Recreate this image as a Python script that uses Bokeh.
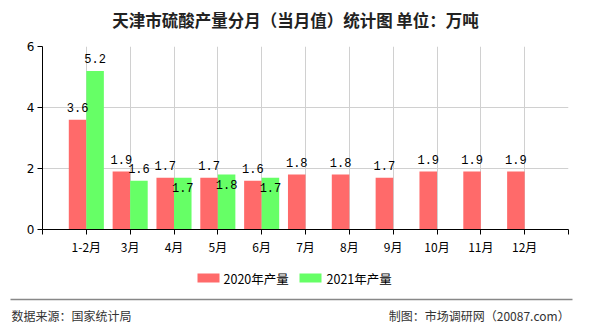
from bokeh.plotting import figure
from bokeh.models import Range1d, FixedTicker, ColumnDataSource
from bokeh.layouts import column
from bokeh.core.properties import value
from bokeh.embed import file_html
from bokeh.resources import INLINE

categories = ["1-2月", "3月", "4月", "5月", "6月", "7月", "8月", "9月", "10月", "11月", "12月"]
series_2020 = [3.6, 1.9, 1.7, 1.7, 1.6, 1.8, 1.8, 1.7, 1.9, 1.9, 1.9]
series_2021 = [5.2, 1.6, 1.7, 1.8, 1.7]
y_ticks = [0, 2, 4, 6]
title_text = "天津市硫酸产量分月（当月值）统计图 单位：万吨"
legend_names = ["2020年产量", "2021年产量"]
source_text = "数据来源：国家统计局"
credit_text = "制图：市场调研网（20087.com）"

RED = "#FF6A6A"
GREEN = "#66FF66"
CJK = "Noto Sans CJK SC"
W = 590


def blank_fig(h, y0, y1):
    f = figure(width=W, height=h, output_backend="svg", toolbar_location=None,
               x_range=Range1d(0, W), y_range=Range1d(y1, y0),
               x_axis_location=None, y_axis_location=None,
               min_border=0, min_border_left=0, min_border_right=0,
               min_border_top=0, min_border_bottom=0, frame_align=False)
    f.outline_line_color = None
    f.grid.visible = False
    f.background_fill_color = "white"
    f.border_fill_color = "white"
    return f


# ---- title strip (canvas rows 0..36)
t = blank_fig(36, 0, 36)
t.text(x=[295], y=[19], text=[title_text], text_font=value(CJK), text_font_size="16.5px",
       text_font_style="bold", text_align="center", text_baseline="middle", text_color="#222222")

# ---- main chart (canvas rows 36..258)
p = figure(width=W, height=222, output_backend="svg", toolbar_location=None,
           x_range=Range1d(0, len(categories) + 1), y_range=Range1d(0, 6),
           min_border_left=42, min_border_right=22, min_border_top=10, min_border_bottom=29,
           frame_align=False)
p.outline_line_color = None
p.background_fill_color = "white"
p.border_fill_color = "white"

xs = list(range(1, len(categories) + 1))
src20 = ColumnDataSource(dict(x=[i - 0.2 for i in xs], top=series_2020,
                              lbl=[f"{v:.1f}" for v in series_2020]))
xs21 = xs[:len(series_2021)]
src21 = ColumnDataSource(dict(x=[i + 0.2 for i in xs21], top=series_2021,
                              lbl=[f"{v:.1f}" for v in series_2021]))
p.vbar(x="x", top="top", width=0.4, source=src20, fill_color=RED, line_color=None)
p.vbar(x="x", top="top", width=0.4, source=src21, fill_color=GREEN, line_color=None)

lab_font = value("Liberation Mono")
LSZ = "12px"
p.text(x="x", y="top", text="lbl", source=src20, text_font=lab_font, text_font_size=LSZ,
       text_align="center", text_baseline="middle", y_offset=-12, text_color="black")

# green labels: above the bar unless they would collide with the red label
above_x, above_y, above_t, in_x, in_y, in_t = [], [], [], [], [], []
for i, v in enumerate(series_2021):
    if abs(v - series_2020[i]) < 0.25:
        in_x.append(xs21[i] + 0.2); in_y.append(v); in_t.append(f"{v:.1f}")
    else:
        above_x.append(xs21[i] + 0.2); above_y.append(v); above_t.append(f"{v:.1f}")
p.text(x=above_x, y=above_y, text=above_t, text_font=lab_font, text_font_size=LSZ,
       text_align="center", text_baseline="middle", y_offset=-12, text_color="black")
p.text(x=in_x, y=in_y, text=in_t, text_font=lab_font, text_font_size=LSZ,
       text_align="center", text_baseline="middle", y_offset=10, text_color="black")

p.xaxis.ticker = FixedTicker(ticks=list(range(0, len(categories) + 2)))
overrides = {0: "", len(categories) + 1: ""}
for i, c in enumerate(categories):
    overrides[i + 1] = c
p.xaxis.major_label_overrides = overrides
p.xaxis.major_label_text_font = CJK
p.xaxis.major_label_text_font_size = "12px"
p.xaxis.major_label_text_color = "black"
p.xaxis.major_tick_in = 0
p.xaxis.major_tick_out = 5
p.xaxis.minor_tick_line_color = None
p.xaxis.axis_line_color = "black"
p.xaxis.major_tick_line_color = "black"
p.xaxis.major_label_standoff = 3

p.yaxis.ticker = FixedTicker(ticks=y_ticks)
p.yaxis.major_label_text_font = "DejaVu Sans"
p.yaxis.major_label_text_font_size = "12px"
p.yaxis.major_label_text_color = "black"
p.yaxis.major_tick_in = 0
p.yaxis.major_tick_out = 5
p.yaxis.minor_tick_line_color = None
p.yaxis.axis_line_color = "black"
p.yaxis.major_tick_line_color = "black"
p.yaxis.major_label_standoff = 3

p.xgrid.ticker = FixedTicker(ticks=list(range(1, len(categories) + 2)))
p.xgrid.grid_line_color = "#D0D0D0"
p.ygrid.ticker = FixedTicker(ticks=y_ticks)
p.ygrid.grid_line_color = "#D0D0D0"

# ---- legend + footer strip (canvas rows 258..330)
f = blank_fig(72, 258, 330)
f.quad(left=[197, 299], right=[219, 321], top=[273, 273], bottom=[282, 282],
       fill_color=[RED, GREEN], line_color=None)
f.text(x=[223, 326], y=[278, 278], text=legend_names, text_font=value(CJK),
       text_font_size="12.5px", text_align="left", text_baseline="middle", text_color="black")
f.segment(x0=[10], y0=[299], x1=[572], y1=[299], line_color="#888888", line_width=1.5)
f.text(x=[11], y=[315], text=[source_text], text_font=value(CJK), text_font_size="12px",
       text_align="left", text_baseline="middle", text_color="#333333")
f.text(x=[569], y=[315], text=[credit_text], text_font=value(CJK), text_font_size="12px",
       text_align="right", text_baseline="middle", text_color="#333333")

layout = column(t, p, f, spacing=0)
open("out.html", "w").write(file_html(layout, INLINE))
